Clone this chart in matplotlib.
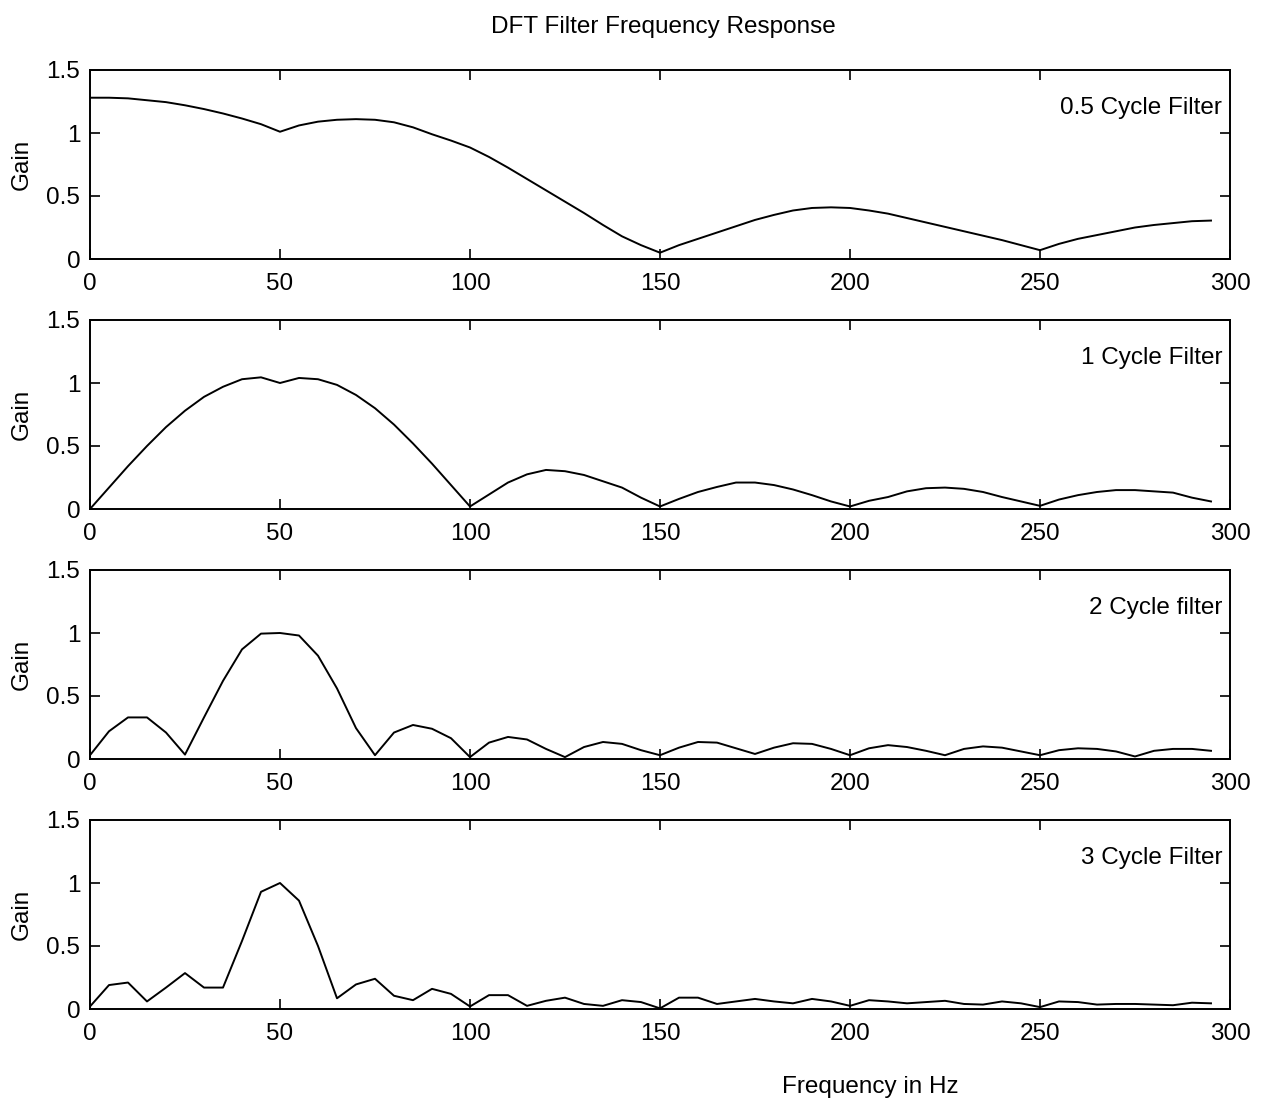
import matplotlib
matplotlib.use("Agg")
import matplotlib.pyplot as plt
import numpy as np

plt.rcParams['font.family'] = ['Liberation Sans', 'DejaVu Sans']

freq = list(range(0, 300, 5))

gain_half = [1.28, 1.28, 1.275, 1.26, 1.245, 1.22, 1.19, 1.155, 1.115, 1.07,
             1.01, 1.06, 1.09, 1.105, 1.11, 1.105, 1.085, 1.045, 0.99, 0.94,
             0.885, 0.81, 0.725, 0.635, 0.545, 0.455, 0.365, 0.27, 0.18, 0.11,
             0.05, 0.11, 0.16, 0.21, 0.26, 0.31, 0.35, 0.385, 0.405, 0.41,
             0.405, 0.385, 0.36, 0.325, 0.29, 0.255, 0.22, 0.185, 0.15, 0.11,
             0.07, 0.12, 0.16, 0.19, 0.22, 0.25, 0.27, 0.285, 0.30, 0.305]

gain_one = [0.0, 0.17, 0.34, 0.50, 0.65, 0.78, 0.89, 0.97, 1.03, 1.045,
            1.0, 1.04, 1.03, 0.985, 0.905, 0.80, 0.67, 0.52, 0.36, 0.19,
            0.02, 0.115, 0.21, 0.275, 0.31, 0.30, 0.27, 0.22, 0.17, 0.09,
            0.02, 0.08, 0.135, 0.175, 0.21, 0.21, 0.19, 0.155, 0.11, 0.06,
            0.02, 0.065, 0.095, 0.14, 0.165, 0.17, 0.16, 0.135, 0.095, 0.06,
            0.025, 0.075, 0.11, 0.135, 0.15, 0.15, 0.14, 0.13, 0.09, 0.06]

gain_two = [0.03, 0.22, 0.33, 0.33, 0.21, 0.035, 0.33, 0.62, 0.87, 0.995,
            1.0, 0.98, 0.82, 0.56, 0.245, 0.03, 0.21, 0.27, 0.24, 0.165,
            0.015, 0.13, 0.175, 0.155, 0.08, 0.015, 0.095, 0.135, 0.12, 0.07,
            0.03, 0.09, 0.135, 0.13, 0.085, 0.04, 0.09, 0.125, 0.12, 0.08,
            0.03, 0.085, 0.11, 0.095, 0.065, 0.03, 0.08, 0.10, 0.09, 0.06,
            0.03, 0.07, 0.085, 0.08, 0.06, 0.02, 0.065, 0.08, 0.08, 0.065]

gain_three = [0.02, 0.19, 0.21, 0.06, 0.17, 0.285, 0.17, 0.17, 0.54, 0.93,
              1.0, 0.86, 0.50, 0.085, 0.195, 0.24, 0.105, 0.07, 0.16, 0.12,
              0.02, 0.11, 0.11, 0.025, 0.065, 0.09, 0.04, 0.025, 0.07, 0.055,
              0.005, 0.09, 0.09, 0.04, 0.06, 0.08, 0.06, 0.045, 0.08, 0.06,
              0.025, 0.07, 0.06, 0.045, 0.055, 0.065, 0.04, 0.035, 0.06, 0.045,
              0.015, 0.06, 0.055, 0.035, 0.04, 0.04, 0.035, 0.03, 0.05, 0.045]

series = [gain_half, gain_one, gain_two, gain_three]
labels = ["0.5 Cycle Filter", "1 Cycle Filter", "2 Cycle filter", "3 Cycle Filter"]
xticks = [0, 50, 100, 150, 200, 250, 300]
yticks = [0, 0.5, 1, 1.5]
ytick_labels = ["0", "0.5", "1", "1.5"]

FS = 17.5

fig = plt.figure(figsize=(12.66, 11.03), dpi=100)
left = 90 / 1266
width = (1230 - 90) / 1266
height = 189 / 1103
bottoms = [1 - 259 / 1103, 1 - 509 / 1103, 1 - 759 / 1103, 1 - 1009 / 1103]

for vals, lab, b in zip(series, labels, bottoms):
    ax = fig.add_axes([left, b, width, height])
    ax.plot(freq, vals, color='black', linewidth=1.4)
    ax.set_xlim(0, 300)
    ax.set_ylim(0, 1.5)
    ax.set_xticks(xticks)
    ax.set_xticklabels([str(t) for t in xticks])
    ax.set_yticks(yticks)
    ax.set_yticklabels(ytick_labels)
    ax.tick_params(direction='in', top=True, right=True, length=7, width=1.2,
                   labelsize=FS, colors='black')
    ax.tick_params(axis='x', pad=10)
    ax.tick_params(axis='y', pad=7)
    for s in ax.spines.values():
        s.set_linewidth(1.4)
    ax.text(0.993, 0.80, lab, transform=ax.transAxes, ha='right', va='center',
            fontsize=FS)
    fig.text(22 / 1266, b + height / 2, "Gain", rotation=90, ha='center',
             va='center', fontsize=FS)

fig.text(663 / 1266, 1 - 27 / 1103, "DFT Filter Frequency Response",
         ha='center', va='center', fontsize=FS)
fig.text(870 / 1266, 1 - 1087 / 1103, "Frequency in Hz", ha='center',
         va='center', fontsize=FS)

fig.savefig("out.png", dpi=100, facecolor='white')
